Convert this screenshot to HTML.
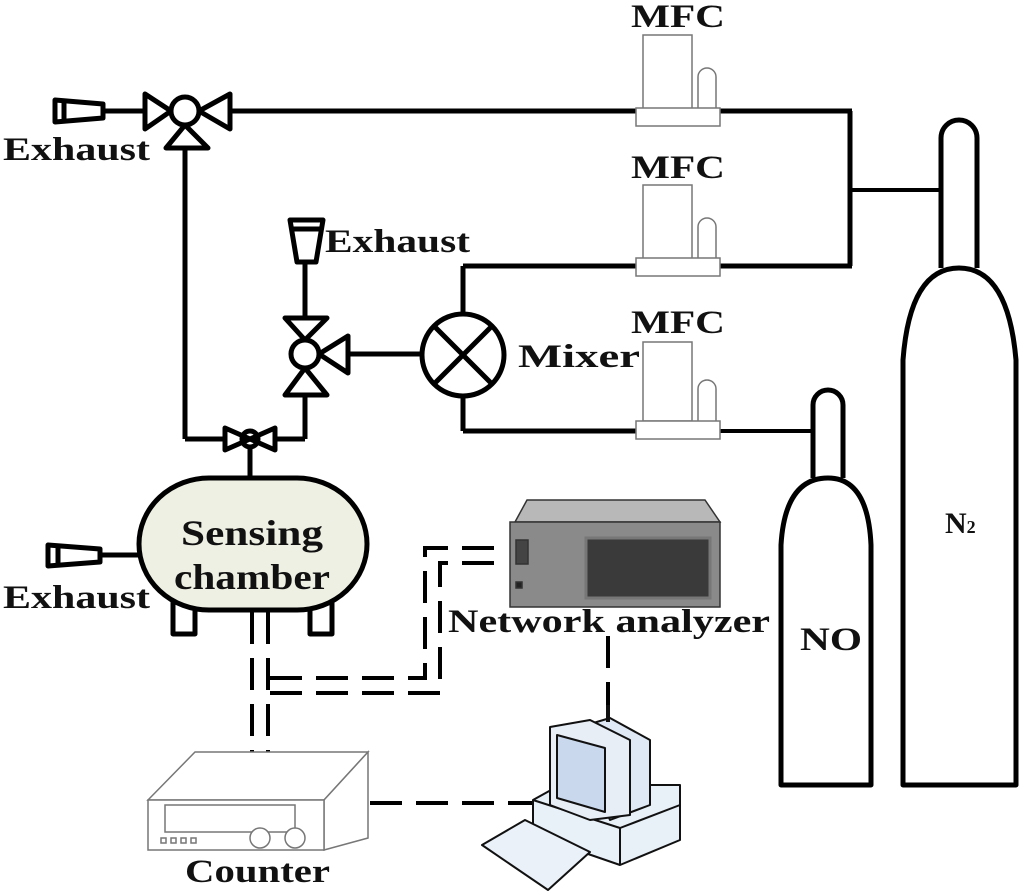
<!DOCTYPE html>
<html><head><meta charset="utf-8"><style>
html,body{margin:0;padding:0;background:#fff;}
svg{display:block}
text{font-family:"Liberation Serif",serif;font-weight:bold;fill:#111}
</style></head><body>
<svg width="1024" height="896" viewBox="0 0 1024 896" xmlns="http://www.w3.org/2000/svg">
<g stroke="#000" stroke-width="5" fill="none" stroke-linejoin="round">
<line x1="230" y1="111" x2="852" y2="111"/>
<line x1="850" y1="111" x2="850" y2="266"/>
<line x1="720" y1="266" x2="852" y2="266"/>
<line x1="850" y1="190" x2="942" y2="190" stroke-width="4"/>
<line x1="463" y1="266" x2="640" y2="266"/>
<line x1="463" y1="266" x2="463" y2="314"/>
<line x1="463" y1="396" x2="463" y2="431"/>
<line x1="463" y1="431" x2="640" y2="431"/>
<line x1="720" y1="431" x2="812" y2="431" stroke-width="4"/>
<line x1="103" y1="111" x2="145" y2="111"/>
<path d="M55,100 L55,122 L103,118 L103,104 Z"/>
<line x1="64" y1="101" x2="64" y2="121"/>
<circle cx="185" cy="111" r="14"/>
<path d="M171,111 L145,94 L145,129 Z"/>
<path d="M199,111 L230,94 L230,129 Z"/>
<path d="M185,125 L166,148 L208,148 Z"/>
<line x1="185" y1="148" x2="185" y2="439"/>
<line x1="185" y1="439" x2="225" y2="439"/>
<path d="M225,428 L225,450 L250,439 Z"/>
<path d="M275,428 L275,450 L250,439 Z"/>
<circle cx="250" cy="439" r="8"/>
<line x1="275" y1="439" x2="305" y2="439"/>
<line x1="305" y1="439" x2="305" y2="396"/>
<line x1="250" y1="447" x2="250" y2="478"/>
<circle cx="305" cy="354" r="14"/>
<path d="M305,340 L285,318 L327,318 Z"/>
<path d="M305,368 L285,395 L327,395 Z"/>
<path d="M319,354 L348,336 L348,373 Z"/>
<line x1="348" y1="354" x2="421" y2="354"/>
<line x1="305" y1="318" x2="305" y2="262"/>
<path d="M290,220 L323,220 L316,262 L297,262 Z"/>
<line x1="291" y1="229" x2="322" y2="229"/>
<circle cx="463" cy="355" r="41"/>
<line x1="434" y1="326" x2="492" y2="384"/>
<line x1="492" y1="326" x2="434" y2="384"/>
<path d="M941,268 L941,138 A18,18 0 0 1 977,138 L977,268" fill="#fff"/>
<path d="M903,785 L903,360 Q910,268 959,268 Q1008,268 1016,360 L1016,785 Z" fill="#fff"/>
<path d="M813,478 L813,405 A15,15 0 0 1 843,405 L843,478" fill="#fff"/>
<path d="M781,785 L781,545 Q785,478 828,478 Q868,478 871,545 L871,785 Z" fill="#fff"/>
<line x1="100" y1="555" x2="140" y2="555"/>
<path d="M48,545 L48,566 L100,562 L100,549 Z"/>
<line x1="58" y1="546" x2="58" y2="565"/>
<rect x="173" y="600" width="22" height="34" fill="#fff"/>
<rect x="310" y="600" width="22" height="34" fill="#fff"/>
<rect x="139" y="478" width="228" height="132" rx="70" ry="66" fill="#eef0e3"/>
</g>
<g stroke="#777" stroke-width="1.5" fill="#fff">
<rect x="643" y="35" width="49" height="74"/><path d="M698,109 L698,77 A9,9 0 0 1 716,77 L716,109"/><rect x="636" y="108" width="84" height="18"/>
<rect x="643" y="185" width="49" height="74"/><path d="M698,259 L698,227 A9,9 0 0 1 716,227 L716,259"/><rect x="636" y="258" width="84" height="18"/>
<rect x="643" y="342" width="49" height="79"/><path d="M698,421 L698,389 A9,9 0 0 1 716,389 L716,421"/><rect x="636" y="421" width="84" height="18"/>
</g>
<g stroke="#000" stroke-width="4" fill="none" stroke-dasharray="32,14">
<line x1="252" y1="612" x2="252" y2="752"/>
<line x1="268" y1="612" x2="268" y2="760"/>
<path d="M270,678 L425,678 L425,548 L505,548"/>
<path d="M270,693 L440,693 L440,563 L495,563"/>
<line x1="608" y1="636" x2="608" y2="722"/>
<line x1="370" y1="803" x2="535" y2="803"/>
</g>
<g stroke="#333" stroke-width="1.5">
<path d="M515,522 L527,500 L705,500 L720,522 Z" fill="#b8b8b8"/>
<rect x="510" y="522" width="210" height="85" fill="#8a8a8a"/>
<rect x="586" y="538" width="124" height="60" fill="#3a3a3a" stroke="#777" stroke-width="3"/>
<rect x="516" y="540" width="12" height="24" fill="#444"/>
<rect x="516" y="582" width="6" height="6" fill="#222"/>
</g>
<g stroke="#777" stroke-width="1.5" fill="#fff">
<path d="M148,800 L195,752 L368,752 L324,800 Z"/>
<path d="M324,800 L368,752 L368,838 L324,850 Z"/>
<rect x="148" y="800" width="176" height="50"/>
<rect x="165" y="805" width="130" height="27"/>
<rect x="161" y="838" width="5" height="5"/><rect x="171" y="838" width="5" height="5"/><rect x="181" y="838" width="5" height="5"/><rect x="191" y="838" width="5" height="5"/>
<circle cx="260" cy="838" r="10"/><circle cx="295" cy="838" r="10"/>
</g>
<g stroke="#111" stroke-width="2" stroke-linejoin="round">
<path d="M533,800 L560,785 L680,785 L680,840 L620,865 L533,835 Z" fill="#e8f0f8"/>
<path d="M533,800 L620,828 L680,805" fill="none"/>
<line x1="620" y1="828" x2="620" y2="865"/>
<path d="M570,730 L610,718 L650,740 L650,805 L610,820 Z" fill="#dfe9f5"/>
<path d="M550,727 L590,720 L630,740 L630,815 L590,820 L550,805 Z" fill="#e8eef6"/>
<path d="M557,735 L605,748 L605,812 L557,798 Z" fill="#c9d8ec"/>
<path d="M482,845 L525,820 L590,852 L548,890 Z" fill="#eaf1f9"/>
<line x1="608" y1="705" x2="608" y2="722" stroke-width="4"/>
</g>
<g font-size="33" lengthAdjust="spacingAndGlyphs">
<text x="3" y="160" textLength="147" lengthAdjust="spacingAndGlyphs">Exhaust</text>
<text x="325" y="252" textLength="145" lengthAdjust="spacingAndGlyphs">Exhaust</text>
<text x="3" y="608" textLength="147" lengthAdjust="spacingAndGlyphs">Exhaust</text>
<text x="518" y="367" textLength="122" lengthAdjust="spacingAndGlyphs">Mixer</text>
<text x="448" y="632" textLength="322" lengthAdjust="spacingAndGlyphs">Network analyzer</text>
<text x="185" y="882" textLength="145" lengthAdjust="spacingAndGlyphs">Counter</text>
<text x="631" y="27" textLength="94" lengthAdjust="spacingAndGlyphs">MFC</text>
<text x="631" y="178" textLength="94" lengthAdjust="spacingAndGlyphs">MFC</text>
<text x="631" y="333" textLength="94" lengthAdjust="spacingAndGlyphs">MFC</text>
<text x="181" y="545" textLength="142" lengthAdjust="spacingAndGlyphs" font-size="36">Sensing</text>
<text x="174" y="589" textLength="156" lengthAdjust="spacingAndGlyphs" font-size="36">chamber</text>
<text x="800" y="650" textLength="62" lengthAdjust="spacingAndGlyphs">NO</text>
<text x="945" y="533" font-size="30">N<tspan font-size="18">2</tspan></text>
</g>
</svg>
</body></html>
